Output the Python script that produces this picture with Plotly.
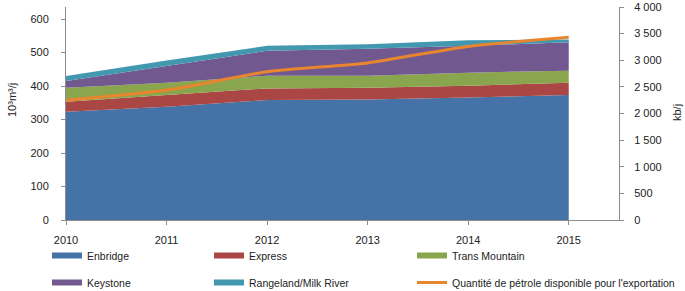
import plotly.graph_objects as go

years = [2010, 2011, 2012, 2013, 2014, 2015]
enbridge = [323, 338, 358, 360, 366, 373]
express = [30, 35, 35, 35, 35, 37]
trans_mountain = [42, 37, 38, 36, 39, 36]
keystone = [20, 50, 74, 80, 80, 85]
rangeland = [15, 16, 15, 14, 17, 8]
export_kbd = [2250, 2440, 2785, 2950, 3260, 3430]

FONT = "Liberation Sans, Arial, sans-serif"
AXIS_COLOR = "#8c8c8c"
TXT = "#222222"
W, H = 685, 291
PL, PR, PT, PB = 66, 619, 7, 220  # plot area in pixels
PW, PH = PR - PL, PB - PT

areas = [
    ("Enbridge", enbridge, "#4572A7", "legend"),
    ("Express", express, "#AA4643", "legend2"),
    ("Trans Mountain", trans_mountain, "#89A54E", "legend3"),
    ("Keystone", keystone, "#71588F", "legend"),
    ("Rangeland/Milk River", rangeland, "#4198AF", "legend2"),
]

fig = go.Figure()
for name, vals, col, leg in areas:
    fig.add_trace(go.Scatter(
        x=years, y=vals, name=name, stackgroup="one", mode="none",
        fillcolor=col, legend=leg, legendgroup=name,
    ))

fig.add_trace(go.Scatter(
    x=years, y=export_kbd, name="Quantité de pétrole disponible pour l'exportation",
    mode="lines", line=dict(color="#E8852F", width=3, shape="spline", smoothing=0.7),
    yaxis="y2", legend="legend3", legendgroup="export",
))

leg_common = dict(
    orientation="v", yanchor="top", xanchor="left",
    y=(PB - 241) / PH,
    traceorder="grouped", tracegroupgap=8, bgcolor="rgba(0,0,0,0)",
    font=dict(family=FONT, size=10.5, color=TXT),
)

axis_common = dict(
    showline=True, linecolor=AXIS_COLOR, linewidth=1,
    ticks="outside", ticklen=4, tickcolor=AXIS_COLOR,
    showgrid=False, zeroline=False, automargin=False,
    tickfont=dict(family=FONT, size=11, color=TXT),
)

fig.update_layout(
    width=W, height=H,
    margin=dict(l=PL, r=W - PR, t=PT, b=H - PB, autoexpand=False),
    paper_bgcolor="white", plot_bgcolor="white",
    font=dict(family=FONT, size=11, color=TXT),
    separators=", ",
    showlegend=True,
    legend=dict(x=(47 - PL) / PW, **leg_common),
    legend2=dict(x=(209 - PL) / PW, **leg_common),
    legend3=dict(x=(412 - PL) / PW, **leg_common),
    xaxis=dict(
        range=[2010, 2015.5], tickvals=years, ticktext=[str(y) for y in years],
        ticklabelstandoff=6, **axis_common,
    ),
    yaxis=dict(
        range=[0, 636], tickvals=[0, 100, 200, 300, 400, 500, 600],
        ticklabelstandoff=10, **axis_common,
    ),
    yaxis2=dict(
        range=[0, 4000], overlaying="y", side="right",
        tickvals=[0, 500, 1000, 1500, 2000, 2500, 3000, 3500, 4000],
        tickformat=",d", ticklabelstandoff=8, **axis_common,
    ),
    annotations=[
        dict(text="10³m³/j", xref="paper", yref="paper",
             x=(12 - PL) / PW, y=(PB - 100) / PH, textangle=-90,
             showarrow=False, xanchor="center", yanchor="middle",
             font=dict(family=FONT, size=11, color=TXT)),
        dict(text="kb/j", xref="paper", yref="paper",
             x=(677 - PL) / PW, y=(PB - 113) / PH, textangle=-90,
             showarrow=False, xanchor="center", yanchor="middle",
             font=dict(family=FONT, size=11, color=TXT)),
    ],
)

fig.write_html(
    "out.html",
    config={"displayModeBar": False},
    post_script="document.body.style.margin='0';document.body.style.overflow='hidden';",
)
